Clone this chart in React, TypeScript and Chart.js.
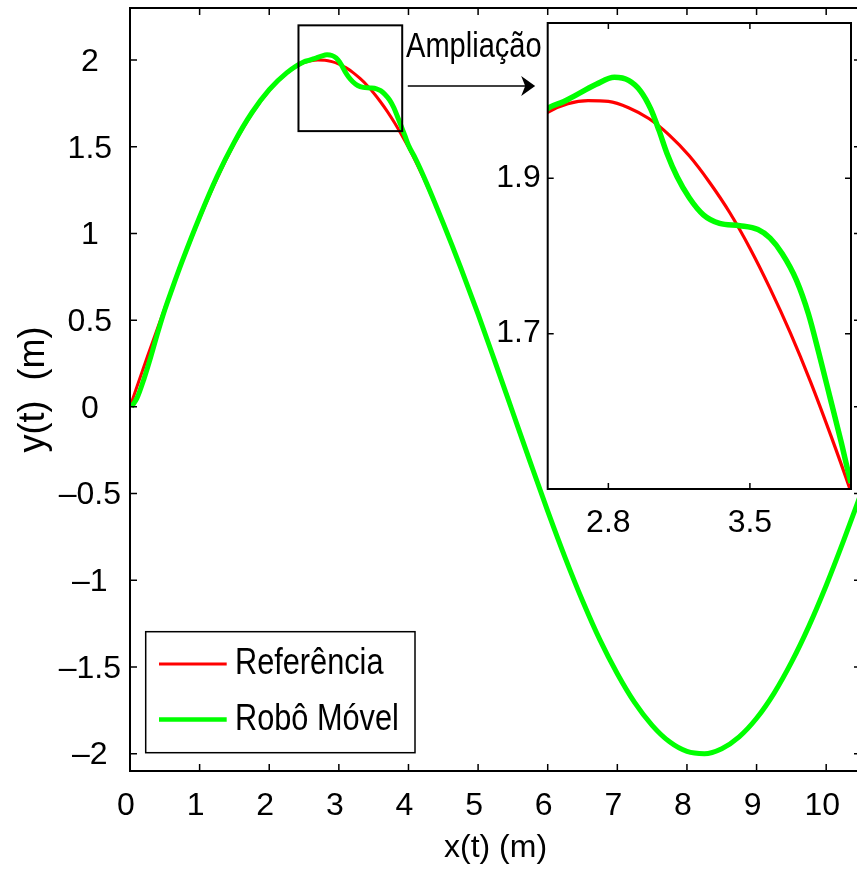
import React, { useEffect, useRef } from "react";
import { Chart, registerables } from "chart.js";

Chart.register(...registerables);

// ---------- data ----------
const REF_X = [
  0, 0.25, 0.5, 0.75, 1.0, 1.25, 1.5, 1.75, 2.0, 2.25, 2.4, 2.5, 2.6, 2.7, 2.8, 2.9,
  3.0, 3.1, 3.2, 3.3, 3.4, 3.5, 3.6, 3.7, 3.8, 3.9, 4.0, 4.1, 4.25, 4.5, 4.75, 5.0,
  5.25, 5.5, 5.75, 6.0, 6.25, 6.5, 6.75, 7.0, 7.25, 7.5, 7.75, 8.0, 8.25, 8.5, 8.75,
  9.0, 9.25, 9.5, 9.75, 10.0, 10.25, 10.5,
];
const REF_Y = [
  0, 0.29, 0.57, 0.835, 1.086, 1.316, 1.518, 1.689, 1.824, 1.923, 1.965, 1.985, 1.996,
  2.0, 1.999, 1.991, 1.977, 1.956, 1.929, 1.895, 1.856, 1.81, 1.758, 1.701, 1.638,
  1.569, 1.496, 1.417, 1.29, 1.056, 0.803, 0.534, 0.252, -0.034, -0.32, -0.601, -0.869,
  -1.118, -1.344, -1.539, -1.706, -1.837, -1.932, -1.987, -2.0, -1.971, -1.903, -1.796,
  -1.652, -1.474, -1.266, -1.03, -0.772, -0.5,
];
const ROBOT_X = [
  0.02, 0.1, 0.2, 0.3, 0.4, 0.5, 0.6, 0.75, 1.0, 1.25, 1.5, 1.75, 2.0, 2.25, 2.5, 2.58,
  2.66, 2.74, 2.83, 2.9, 2.96, 3.01, 3.05, 3.09, 3.14, 3.2, 3.27, 3.35, 3.45, 3.54, 3.6,
  3.66, 3.73, 3.79, 3.84, 3.9, 3.95, 4.0, 4.1, 4.25, 4.5, 4.75, 5.0, 5.25, 5.5, 5.75,
  6.0, 6.25, 6.5, 6.75, 7.0, 7.25, 7.5, 7.75, 8.0, 8.25, 8.5, 8.75, 9.0, 9.25, 9.5,
  9.75, 10.0, 10.25, 10.5,
];
const ROBOT_Y = [
  0.0, 0.05, 0.16, 0.29, 0.43, 0.56, 0.675, 0.84, 1.095, 1.328, 1.528, 1.696, 1.829,
  1.926, 1.99, 1.999, 2.01, 2.021, 2.03, 2.026, 2.012, 1.989, 1.962, 1.932, 1.902, 1.875,
  1.853, 1.842, 1.839, 1.834, 1.823, 1.803, 1.769, 1.725, 1.676, 1.614, 1.562, 1.508,
  1.432, 1.3, 1.058, 0.803, 0.534, 0.252, -0.034, -0.32, -0.601, -0.869, -1.118, -1.344,
  -1.539, -1.706, -1.837, -1.932, -1.987, -2.0, -1.971, -1.903, -1.796, -1.652, -1.474,
  -1.266, -1.03, -0.772, -0.5,
];
const SERIES_LABELS = ["Referência", "Robô Móvel"];
const SERIES_COLORS = ["#ff0000", "#00ff00"];

const MAIN_X_TICKS = [0, 1, 2, 3, 4, 5, 6, 7, 8, 9, 10];
const MAIN_Y_TICKS = [-2, -1.5, -1, -0.5, 0, 0.5, 1, 1.5, 2];
const INSET_X_TICKS = [2.8, 3.5];
const INSET_Y_TICKS = [1.7, 1.9];

const MAIN_X_RANGE = [0, 10.5];
const MAIN_Y_RANGE = [-2.1, 2.3];
const INSET_X_RANGE = [2.5, 4.0];
const INSET_Y_RANGE = [1.5, 2.1];

// region marked on the main plot (data units)
const ZOOM_BOX_X = [2.42, 3.91];
const ZOOM_BOX_Y = [1.59, 2.2];
// arrow & its label (data units of the main plot)
const ARROW_X = [3.99, 5.82];
const ARROW_Y = 1.85;
const ANNOT_TEXT = "Ampliação";
const ANNOT_POS = [3.965, 2.017];

const X_TITLE = "x(t) (m)";
const Y_TITLE = "y(t)  (m)";

// ---------- helpers ----------
const FONT = "'Liberation Sans', Arial, Helvetica, sans-serif";
const FS = 32;
const CONDENSE = 0.83;
const fmt = (v: number) => (v < 0 ? "\u2013" + String(Math.abs(v)) : String(v));
const pts = (xs: number[], ys: number[]) => xs.map((x, i) => ({ x, y: ys[i] }));
const noPad = (s: any) => {
  s.paddingTop = 0;
  s.paddingBottom = 0;
  s.paddingLeft = 0;
  s.paddingRight = 0;
};
const condensedText = (ctx: CanvasRenderingContext2D, text: string, x: number, y: number) => {
  const w = ctx.measureText(text).width;
  ctx.fillText(text, x, y, w * CONDENSE);
};
const noGrid = { display: false, drawTicks: false, tickLength: 0 };

function makeDatasets(refW: number, robW: number) {
  return [
    {
      label: SERIES_LABELS[0],
      data: pts(REF_X, REF_Y),
      borderColor: SERIES_COLORS[0],
      borderWidth: refW,
      pointRadius: 0,
      fill: false,
      cubicInterpolationMode: "monotone" as const,
      order: 1,
    },
    {
      label: SERIES_LABELS[1],
      data: pts(ROBOT_X, ROBOT_Y),
      borderColor: SERIES_COLORS[1],
      borderWidth: robW,
      pointRadius: 0,
      fill: false,
      cubicInterpolationMode: "monotone" as const,
      order: 0,
    },
  ];
}

const mainDecor = {
  id: "mainDecor",
  afterDatasetsDraw(chart: any) {
    const { ctx, chartArea: a, scales } = chart;
    const x = scales.x;
    const y = scales.y;
    ctx.save();
    ctx.strokeStyle = "#000";
    ctx.lineWidth = 2;
    ctx.strokeRect(a.left, a.top, a.right - a.left, a.bottom - a.top);
    ctx.lineWidth = 1.5;
    ctx.beginPath();
    for (const v of MAIN_X_TICKS) {
      const px = x.getPixelForValue(v);
      ctx.moveTo(px, a.bottom);
      ctx.lineTo(px, a.bottom - 7);
      ctx.moveTo(px, a.top);
      ctx.lineTo(px, a.top + 7);
    }
    for (const v of MAIN_Y_TICKS) {
      const py = y.getPixelForValue(v);
      ctx.moveTo(a.left, py);
      ctx.lineTo(a.left + 7, py);
      ctx.moveTo(a.right, py);
      ctx.lineTo(a.right - 7, py);
    }
    ctx.stroke();

    // zoom box
    const bx0 = x.getPixelForValue(ZOOM_BOX_X[0]);
    const bx1 = x.getPixelForValue(ZOOM_BOX_X[1]);
    const by0 = y.getPixelForValue(ZOOM_BOX_Y[1]);
    const by1 = y.getPixelForValue(ZOOM_BOX_Y[0]);
    ctx.lineWidth = 2;
    ctx.strokeRect(bx0, by0, bx1 - bx0, by1 - by0);

    // arrow
    const ax0 = x.getPixelForValue(ARROW_X[0]);
    const ax1 = x.getPixelForValue(ARROW_X[1]);
    const ay = y.getPixelForValue(ARROW_Y);
    ctx.lineWidth = 1.5;
    ctx.beginPath();
    ctx.moveTo(ax0, ay);
    ctx.lineTo(ax1 - 8, ay);
    ctx.stroke();
    ctx.fillStyle = "#000";
    ctx.beginPath();
    ctx.moveTo(ax1, ay);
    ctx.lineTo(ax1 - 14, ay - 10);
    ctx.lineTo(ax1 - 10, ay);
    ctx.lineTo(ax1 - 14, ay + 10);
    ctx.closePath();
    ctx.fill();

    // annotation text
    ctx.font = `35px ${FONT}`;
    ctx.textAlign = "left";
    ctx.textBaseline = "alphabetic";
    condensedText(ctx, ANNOT_TEXT, x.getPixelForValue(ANNOT_POS[0]), y.getPixelForValue(ANNOT_POS[1]));
    ctx.restore();
  },
  afterDraw(chart: any) {
    const { ctx, chartArea: a } = chart;
    const left = a.left + 15.7;
    const top = a.bottom - 139.3;
    const w = 269.3;
    const h = 121;
    ctx.save();
    ctx.fillStyle = "#fff";
    ctx.fillRect(left, top, w, h);
    ctx.strokeStyle = "#000";
    ctx.lineWidth = 1.5;
    ctx.strokeRect(left, top, w, h);
    const rows = [top + 32.3, top + 87.8];
    const widths = [3, 4.5];
    chart.data.datasets.forEach((ds: any, i: number) => {
      ctx.strokeStyle = ds.borderColor;
      ctx.lineWidth = widths[i];
      ctx.beginPath();
      ctx.moveTo(left + 13.3, rows[i]);
      ctx.lineTo(left + 81, rows[i]);
      ctx.stroke();
      ctx.fillStyle = "#000";
      ctx.font = `37px ${FONT}`;
      ctx.textAlign = "left";
      ctx.textBaseline = "middle";
      condensedText(ctx, ds.label, left + 89.3, rows[i]);
    });
    ctx.restore();
  },
};

const insetDecor = {
  id: "insetDecor",
  beforeDatasetsDraw(chart: any) {
    const { ctx, chartArea: a } = chart;
    ctx.save();
    ctx.fillStyle = "#fff";
    ctx.fillRect(a.left, a.top, a.right - a.left, a.bottom - a.top);
    ctx.restore();
  },
  afterDatasetsDraw(chart: any) {
    const { ctx, chartArea: a, scales } = chart;
    ctx.save();
    ctx.strokeStyle = "#000";
    ctx.lineWidth = 2;
    ctx.strokeRect(a.left, a.top, a.right - a.left, a.bottom - a.top);
    ctx.lineWidth = 1.5;
    ctx.beginPath();
    for (const v of INSET_X_TICKS) {
      const px = scales.x.getPixelForValue(v);
      ctx.moveTo(px, a.bottom);
      ctx.lineTo(px, a.bottom - 6);
      ctx.moveTo(px, a.top);
      ctx.lineTo(px, a.top + 6);
    }
    for (const v of INSET_Y_TICKS) {
      const py = scales.y.getPixelForValue(v);
      ctx.moveTo(a.left, py);
      ctx.lineTo(a.left + 6, py);
      ctx.moveTo(a.right, py);
      ctx.lineTo(a.right - 6, py);
    }
    ctx.stroke();
    ctx.restore();
  },
};

const tickFont = { family: FONT, size: FS };

export default function App() {
  const mainRef = useRef<HTMLCanvasElement>(null);
  const insetRef = useRef<HTMLCanvasElement>(null);

  useEffect(() => {
    document.body.style.margin = "0";
    Chart.defaults.font.family = FONT;
    Chart.defaults.color = "#000";

    const main = new Chart(mainRef.current as HTMLCanvasElement, {
      type: "line",
      data: { datasets: makeDatasets(3, 5) as any },
      options: {
        animation: false,
        responsive: false,
        devicePixelRatio: 1,
        layout: { padding: { left: 0, top: 8, right: 1, bottom: 0 } },
        plugins: { legend: { display: false }, tooltip: { enabled: false } },
        scales: {
          x: {
            type: "linear",
            min: MAIN_X_RANGE[0],
            max: MAIN_X_RANGE[1],
            grid: noGrid,
            border: { display: false },
            afterBuildTicks: (s: any) => {
              s.ticks = MAIN_X_TICKS.map((v) => ({ value: v }));
            },
            afterFit: (s: any) => {
              s.height = 104;
              noPad(s);
            },
            ticks: {
              font: tickFont,
              color: "#000",
              padding: 16,
              labelOffset: -4,
              maxRotation: 0,
              minRotation: 0,
              autoSkip: false,
              callback: (v: any) => fmt(Number(v)),
            },
            title: {
              display: true,
              text: X_TITLE,
              font: tickFont,
              color: "#000",
              padding: { top: 0, bottom: 8 },
            },
          },
          y: {
            type: "linear",
            min: MAIN_Y_RANGE[0],
            max: MAIN_Y_RANGE[1],
            grid: noGrid,
            border: { display: false },
            afterBuildTicks: (s: any) => {
              s.ticks = MAIN_Y_TICKS.map((v) => ({ value: v }));
            },
            afterFit: (s: any) => {
              s.width = 130;
              noPad(s);
            },
            ticks: {
              font: tickFont,
              color: "#000",
              padding: 9,
              crossAlign: "center",
              labelOffset: 2,
              autoSkip: false,
              callback: (v: any) => fmt(Number(v)),
            },
            title: {
              display: true,
              text: Y_TITLE,
              font: { family: FONT, size: 36 },
              color: "#000",
              padding: { top: 12, bottom: 0 },
            },
          },
        },
      } as any,
      plugins: [mainDecor],
    });

    const inset = new Chart(insetRef.current as HTMLCanvasElement, {
      type: "line",
      data: { datasets: makeDatasets(3.2, 5.5) as any },
      options: {
        animation: false,
        responsive: false,
        devicePixelRatio: 1,
        layout: { padding: { left: 0, top: 23, right: 6, bottom: 0 } },
        plugins: { legend: { display: false }, tooltip: { enabled: false } },
        scales: {
          x: {
            type: "linear",
            min: INSET_X_RANGE[0],
            max: INSET_X_RANGE[1],
            grid: noGrid,
            border: { display: false },
            afterBuildTicks: (s: any) => {
              s.ticks = INSET_X_TICKS.map((v) => ({ value: v }));
            },
            afterFit: (s: any) => {
              s.height = 71;
              noPad(s);
            },
            ticks: {
              font: tickFont,
              color: "#000",
              padding: 15,
              maxRotation: 0,
              minRotation: 0,
              autoSkip: false,
              callback: (v: any) => String(v),
            },
          },
          y: {
            type: "linear",
            min: INSET_Y_RANGE[0],
            max: INSET_Y_RANGE[1],
            grid: noGrid,
            border: { display: false },
            afterBuildTicks: (s: any) => {
              s.ticks = INSET_Y_TICKS.map((v) => ({ value: v }));
            },
            afterFit: (s: any) => {
              s.width = 67.7;
              noPad(s);
            },
            ticks: {
              font: tickFont,
              color: "#000",
              padding: 7,
              autoSkip: false,
              callback: (v: any) => String(v),
            },
          },
        },
      } as any,
      plugins: [insetDecor],
    });

    return () => {
      main.destroy();
      inset.destroy();
    };
  }, []);

  return (
    <div style={{ position: "relative", width: 857, height: 875, overflow: "hidden", background: "#fff" }}>
      <canvas
        ref={mainRef}
        width={862}
        height={875}
        style={{ position: "absolute", left: 0, top: 0, width: 862, height: 875 }}
      />
      <canvas
        ref={insetRef}
        width={377}
        height={560}
        style={{ position: "absolute", left: 480, top: 0, width: 377, height: 560 }}
      />
    </div>
  );
}
